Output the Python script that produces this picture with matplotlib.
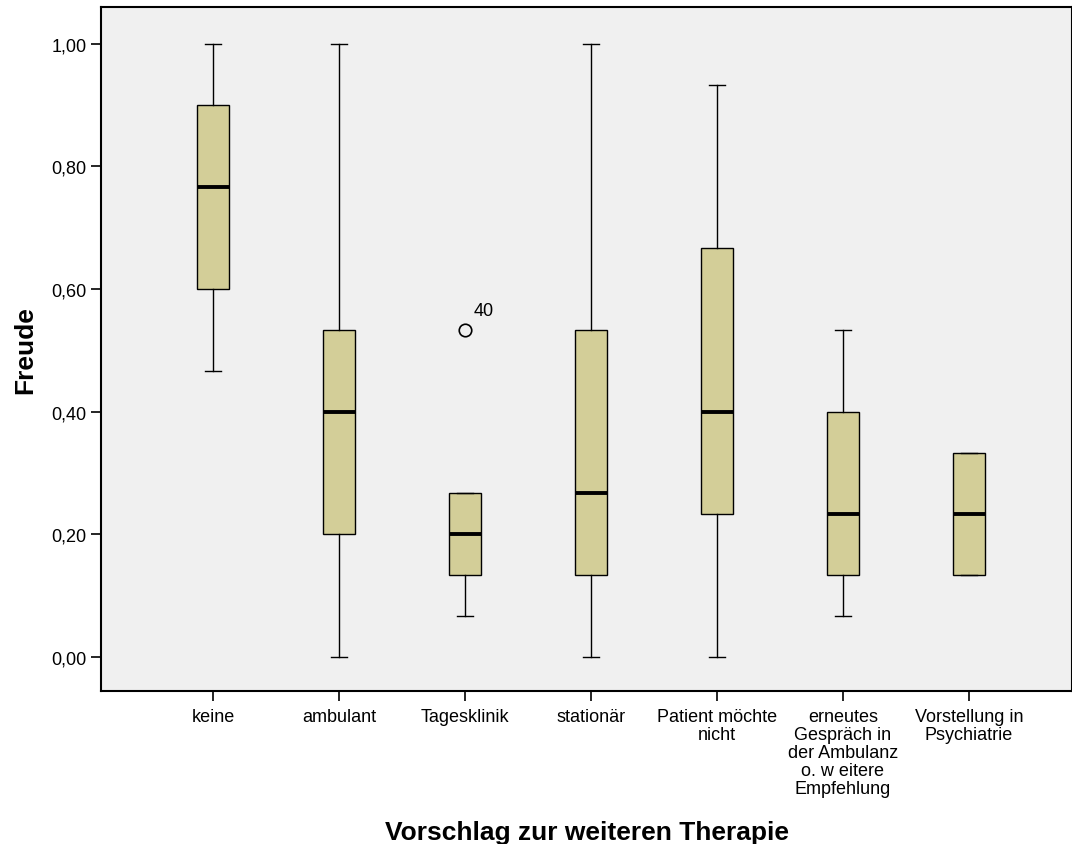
import matplotlib
matplotlib.use("Agg")
import matplotlib.pyplot as plt

plt.rcParams['font.family'] = ['Liberation Sans', 'DejaVu Sans']

# categories and box statistics
categories = ["keine", "ambulant", "Tagesklinik", "stationär",
              "Patient möchte\nnicht",
              "erneutes\nGespräch in\nder Ambulanz\no. w eitere\nEmpfehlung",
              "Vorstellung in\nPsychiatrie"]
whisk_lo = [0.467, 0.0, 0.067, 0.0, 0.0, 0.067, 0.133]
q1 = [0.600, 0.200, 0.133, 0.133, 0.233, 0.133, 0.133]
medians = [0.767, 0.400, 0.200, 0.267, 0.400, 0.233, 0.233]
q3 = [0.900, 0.533, 0.267, 0.533, 0.667, 0.400, 0.333]
whisk_hi = [1.0, 1.0, 0.267, 1.0, 0.933, 0.533, 0.333]
outliers = [[], [], [0.533], [], [], [], []]
outlier_ids = [[], [], ["40"], [], [], [], []]
yticks = [0.0, 0.2, 0.4, 0.6, 0.8, 1.0]
ytick_labels = ["0,00", "0,20", "0,40", "0,60", "0,80", "1,00"]

stats = []
for i in range(len(categories)):
    stats.append({"whislo": whisk_lo[i], "q1": q1[i], "med": medians[i],
                  "q3": q3[i], "whishi": whisk_hi[i], "fliers": outliers[i]})

fig = plt.figure(figsize=(10.72, 8.45), dpi=100)
ax = fig.add_axes([0.0942, 0.181, 0.906, 0.8095])
ax.set_facecolor("#F0F0F0")

positions = list(range(1, len(categories) + 1))
ax.bxp(stats, positions=positions, widths=0.254, patch_artist=True,
       boxprops=dict(facecolor="#D3CE98", edgecolor="black", linewidth=1.0),
       medianprops=dict(color="black", linewidth=2.8),
       whiskerprops=dict(color="black", linewidth=1.0),
       capprops=dict(color="black", linewidth=1.0),
       flierprops=dict(marker="o", markersize=9, markerfacecolor="none",
                       markeredgecolor="black", markeredgewidth=1.2),
       capwidths=0.127)

# outlier case numbers
for i, ids in enumerate(outlier_ids):
    for val, lab in zip(outliers[i], ids):
        ax.annotate(lab, (positions[i], val), xytext=(6, 8),
                    textcoords="offset points", fontsize=13,
                    ha="left", va="bottom")

ax.set_xlim(0.111, 7.82)
ax.set_ylim(-0.0555, 1.06)
ax.set_xticks(positions)
ax.set_xticklabels(categories, fontsize=13, linespacing=1.09, va="top")
ax.set_yticks(yticks)
ax.set_yticklabels(ytick_labels, fontsize=13)
ax.tick_params(axis="both", direction="out", length=7, width=1.2, color="black")
ax.tick_params(axis="x", pad=5)

for side in ["left", "bottom", "top", "right"]:
    ax.spines[side].set_linewidth(1.5)
    ax.spines[side].set_color("black")

ax.set_ylabel("Freude", fontsize=19, fontweight="bold", labelpad=10)
ax.set_xlabel("Vorschlag zur weiteren Therapie", fontsize=19, fontweight="bold",
              labelpad=16)

fig.savefig("out.png", dpi=100, facecolor="white")
